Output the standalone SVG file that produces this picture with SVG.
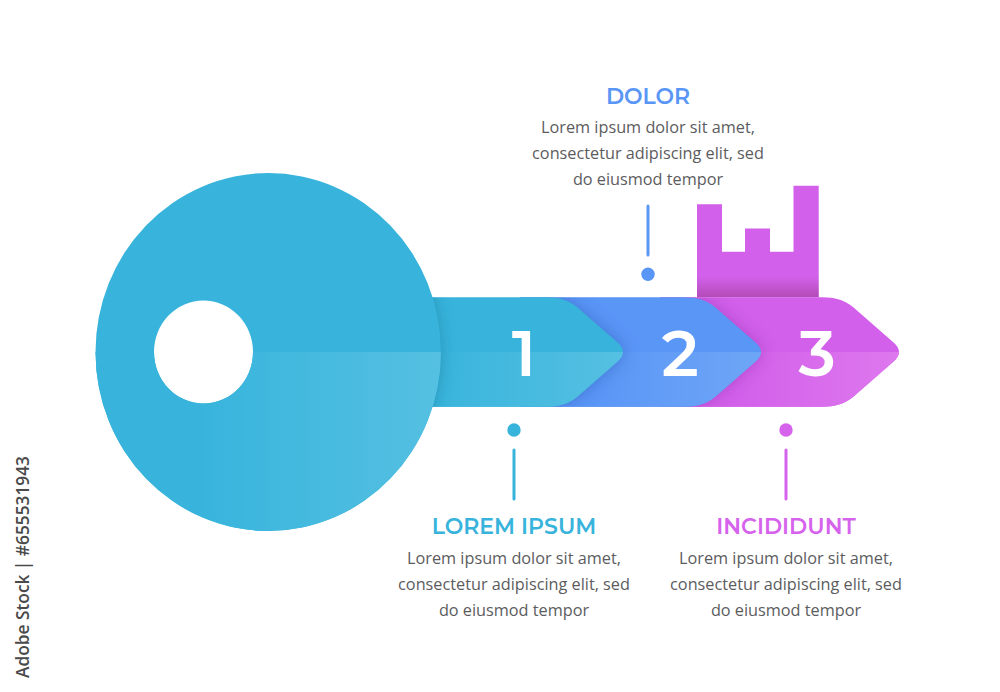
<svg xmlns="http://www.w3.org/2000/svg" width="1000" height="692" viewBox="0 0 1000 692">
<style>
.h{font-family:"Montserrat","Inter","Liberation Sans",sans-serif;font-weight:600;font-size:22px;text-anchor:middle}
.b{font-family:"Open Sans","Noto Sans",sans-serif;font-size:16.25px;fill:#5c5c5e;text-anchor:middle}
.n{font-family:"Montserrat","Inter","Liberation Sans",sans-serif;font-weight:600;font-size:64px;fill:#fff;text-anchor:middle}
.stem{stroke-width:3;stroke-linecap:round;fill:none}
</style>
<defs>
<linearGradient id="gT" x1="0" x2="1" y1="0" y2="0"><stop offset="0" stop-color="#38b4dc"/><stop offset="1" stop-color="#55c0e2"/></linearGradient>
<linearGradient id="gH" gradientUnits="userSpaceOnUse" x1="200" x2="441" y1="0" y2="0"><stop offset="0" stop-color="#38b4dc"/><stop offset="1" stop-color="#55c0e2"/></linearGradient>
<linearGradient id="gB" x1="0" x2="1" y1="0" y2="0"><stop offset="0.3" stop-color="#5a96f6"/><stop offset="1" stop-color="#6ea6f6"/></linearGradient>
<linearGradient id="gM" x1="0" x2="1" y1="0" y2="0"><stop offset="0.3" stop-color="#d260ea"/><stop offset="1" stop-color="#de78ee"/></linearGradient>
<linearGradient id="gF" x1="0" x2="0" y1="0" y2="1"><stop offset="0" stop-color="#a2409c" stop-opacity="0"/><stop offset="1" stop-color="#a2409c" stop-opacity="0.65"/></linearGradient>
<filter id="sh" x="-20%" y="-20%" width="140%" height="140%"><feGaussianBlur stdDeviation="8"/></filter>
<clipPath id="low"><rect x="0" y="352" width="1000" height="340"/></clipPath>
<path id="a1" d="M425 297.3H546C559 297.3 568 300 577 307L617 342C621 345 623 349 623 352C623 355 621 359 617 362L577 397C568 404 559 406.7 546 406.7H425Z"/>
<path id="a2" d="M520 297.3H684C697 297.3 706 300 715 307L755 342C759 345 761 349 761 352C761 355 759 359 755 362L715 397C706 404 697 406.7 684 406.7H520Z"/>
<path id="a3" d="M660 297.3H822C835 297.3 844 300 853 307L893 342C897 345 899 349 899 352C899 355 897 359 893 362L853 397C844 404 835 406.7 822 406.7H660Z"/>
<clipPath id="c2"><use href="#a2"/></clipPath>
<clipPath id="c3"><use href="#a3"/></clipPath>
<clipPath id="c1"><use href="#a1"/></clipPath>
</defs>
<rect width="1000" height="692" fill="#fff"/>

<g id="factory">
<path d="M697 297.3V204.3H722V251.7H745V228.5H770V251.7H793.5V185.7H818.7V297.3Z" fill="#d260ea"/>
<rect x="697" y="277" width="121.7" height="20.3" fill="url(#gF)"/>
</g>

<g id="arrow-3">
<use href="#a3" fill="#d260ea"/>
<use href="#a3" fill="url(#gM)" clip-path="url(#low)"/>
<text class="n" x="817" y="376">3</text>
</g>

<g id="arrow-2">
<g clip-path="url(#c3)"><use href="#a2" fill="#8e2fa8" opacity="0.5" filter="url(#sh)"/></g>
<use href="#a2" fill="#5a96f6"/>
<use href="#a2" fill="url(#gB)" clip-path="url(#low)"/>
<text class="n" x="680" y="376">2</text>
</g>

<g id="arrow-1">
<g clip-path="url(#c2)"><use href="#a1" fill="#2a55b0" opacity="0.5" filter="url(#sh)"/></g>
<use href="#a1" fill="#38b4dc"/>
<use href="#a1" fill="url(#gT)" clip-path="url(#low)"/>
<text class="n" x="524" y="376">1</text>
</g>

<g id="key-head">
<g clip-path="url(#c1)"><ellipse cx="268" cy="352" rx="172.7" ry="179" fill="#1f7f9f" opacity="0.6" filter="url(#sh)"/></g>
<path fill-rule="evenodd" fill="#38b4dc" d="M95.5 352A172.7 179 0 0 1 440.9 352A172.7 179 0 0 1 95.5 352ZM154 352A49.5 51.5 0 0 0 253 352A49.5 51.5 0 0 0 154 352Z"/>
<path fill="url(#gH)" d="M253 352H440.9A172.7 179 0 0 1 95.5 352H154A49.5 51.5 0 0 0 253 352Z"/>
</g>

<g id="connectors">
<line class="stem" x1="648" y1="206" x2="648" y2="255" stroke="#5a96f6"/>
<line class="stem" x1="514" y1="450" x2="514" y2="499" stroke="#38b4dc"/>
<line class="stem" x1="786" y1="450" x2="786" y2="499" stroke="#d663ec"/>
</g>

<g id="label-dolor">
<circle cx="648" cy="274.3" r="6.7" fill="#5a96f6"/>
<text class="h" x="648" y="103.6" fill="#5a96f6">DOLOR</text>
<text class="b" x="648" y="132.5">Lorem ipsum dolor sit amet,</text>
<text class="b" x="648" y="158.7">consectetur adipiscing elit, sed</text>
<text class="b" x="648" y="185">do eiusmod tempor</text>
</g>

<g id="label-lorem">
<circle cx="514" cy="430" r="6.7" fill="#38b4dc"/>
<text class="h" x="514" y="534" fill="#38b4dc">LOREM IPSUM</text>
<text class="b" x="514" y="563.5">Lorem ipsum dolor sit amet,</text>
<text class="b" x="514" y="589.7">consectetur adipiscing elit, sed</text>
<text class="b" x="514" y="616">do eiusmod tempor</text>
</g>

<g id="label-incididunt">
<circle cx="786" cy="430" r="6.7" fill="#d663ec"/>
<text class="h" x="786" y="534" fill="#d663ec">INCIDIDUNT</text>
<text class="b" x="786" y="563.5">Lorem ipsum dolor sit amet,</text>
<text class="b" x="786" y="589.7">consectetur adipiscing elit, sed</text>
<text class="b" x="786" y="616">do eiusmod tempor</text>
</g>

<text transform="translate(29 567) rotate(-90)" text-anchor="middle" font-family="Open Sans, Noto Sans, sans-serif" font-weight="600" font-size="17.3" fill="#4a4a4a">Adobe Stock | #655531943</text>
</svg>
